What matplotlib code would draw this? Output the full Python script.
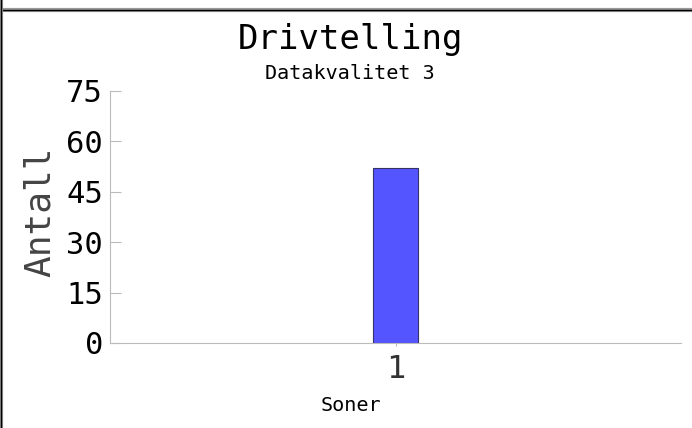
import matplotlib
matplotlib.use("Agg")
import matplotlib.pyplot as plt
from matplotlib.lines import Line2D

# Data
zones = ["1"]
counts = [52]
yticks = [0, 15, 30, 45, 60, 75]

plt.rcParams['font.family'] = 'DejaVu Sans Mono'

fig = plt.figure(figsize=(6.92, 4.28), dpi=100)
ax = fig.add_axes([110 / 692, 85 / 428, 571 / 692, 252 / 428])

xpos = list(range(1, len(zones) + 1))
ax.bar(xpos, counts, width=0.16, color='#5555ff', edgecolor='#333366', linewidth=0.8)

ax.set_xlim(0, 2)
ax.set_ylim(0, 75)
ax.set_yticks(yticks)
ax.set_yticklabels([str(v) for v in yticks])
ax.set_xticks(xpos)
ax.set_xticklabels(zones)
ax.tick_params(axis='y', direction='in', length=8, color='#bbbbbb', pad=5,
               labelsize=22, labelcolor='black')
ax.tick_params(axis='x', direction='out', length=2, color='#bbbbbb', pad=6,
               labelsize=23, labelcolor='#333333')

for s in ['top', 'right']:
    ax.spines[s].set_visible(False)
ax.spines['left'].set_color('#bbbbbb')
ax.spines['bottom'].set_color('#bbbbbb')

ax.set_ylabel('Antall', fontsize=26, color='#444444', labelpad=7)
ax.yaxis.label.set_y(0.52)

# Titles and x label centered on the figure
fig.text(0.506, 0.908, 'Drivtelling', ha='center', va='center', fontsize=24.5)
fig.text(0.506, 0.828, 'Datakvalitet 3', ha='center', va='center', fontsize=14.5)
fig.text(0.507, 0.053, 'Soner', ha='center', va='center', fontsize=14.5)

# Frame lines at the top and left edges
fig.add_artist(Line2D([0, 1], [1 - 9.5 / 428] * 2, color='#999999', lw=3, transform=fig.transFigure))
fig.add_artist(Line2D([0, 1], [1 - 9.5 / 428] * 2, color='black', lw=1, transform=fig.transFigure))
fig.add_artist(Line2D([1.5 / 692] * 2, [0, 1], color='#999999', lw=3, transform=fig.transFigure))
fig.add_artist(Line2D([1.5 / 692] * 2, [0, 1], color='black', lw=1, transform=fig.transFigure))

fig.savefig('out.png', dpi=100)
